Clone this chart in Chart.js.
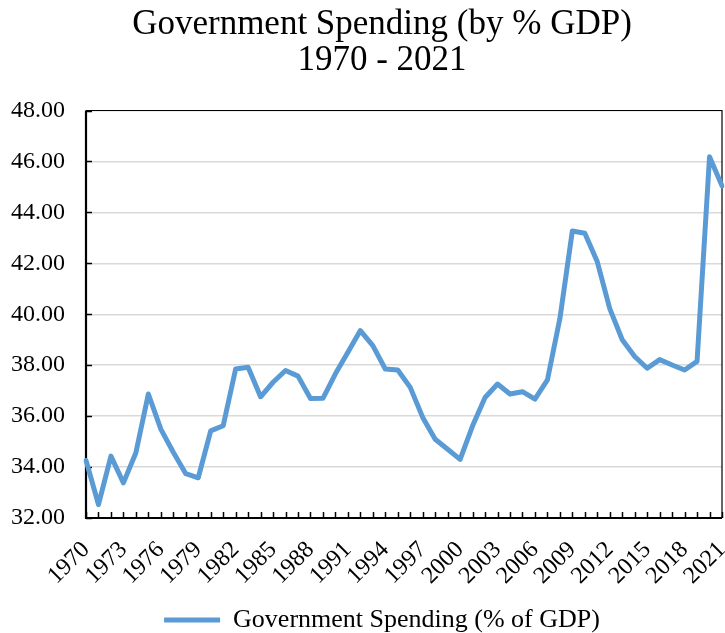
<!DOCTYPE html>
<html>
<head>
<meta charset="utf-8">
<title>Government Spending</title>
<script src="https://cdn.jsdelivr.net/npm/chart.js@4.4.0/dist/chart.umd.min.js"></script>
<style>
  html, body { margin: 0; padding: 0; background: #fff; }
  #wrap { width: 725px; height: 633px; }
</style>
</head>
<body>
<div id="wrap"><canvas id="spendingChart"></canvas></div>
<script>
// Años (eje x) y gasto público en % del PIB
const years = ['1970', '1971', '1972', '1973', '1974', '1975', '1976', '1977', '1978', '1979',
               '1980', '1981', '1982', '1983', '1984', '1985', '1986', '1987', '1988', '1989',
               '1990', '1991', '1992', '1993', '1994', '1995', '1996', '1997', '1998', '1999',
               '2000', '2001', '2002', '2003', '2004', '2005', '2006', '2007', '2008', '2009',
               '2010', '2011', '2012', '2013', '2014', '2015', '2016', '2017', '2018', '2019',
               '2020', '2021'];
const spending = [34.26, 32.53, 34.43, 33.38, 34.56, 36.87, 35.49, 34.58, 33.74, 33.58,
                  35.42, 35.62, 37.85, 37.92, 36.76, 37.33, 37.79, 37.57, 36.69, 36.70,
                  37.66, 38.51, 39.36, 38.77, 37.85, 37.81, 37.13, 35.95, 35.09, 34.70,
                  34.30, 35.62, 36.73, 37.26, 36.87, 36.96, 36.67, 37.42, 39.83, 43.27,
                  43.18, 42.06, 40.22, 39.00, 38.34, 37.88, 38.22, 38.01, 37.81, 38.15,
                  46.18, 45.04];
const yTicks = [32, 34, 36, 38, 40, 42, 44, 46, 48];

const serif = "'Liberation Serif', 'Times New Roman', serif";
const lineColor = '#5B9BD5';

// Marco del área del gráfico y marcas hacia dentro
const frameTicks = {
    id: 'frameTicks',
    beforeDatasetsDraw(chart) {
        const { ctx, chartArea: a, scales } = chart;
        ctx.save();
        ctx.strokeStyle = '#000';
        ctx.lineWidth = 1.2;
        ctx.beginPath();
        ctx.moveTo(a.left, a.top);
        ctx.lineTo(a.right, a.top);
        ctx.lineTo(a.right, a.bottom);
        ctx.stroke();

        ctx.lineWidth = 2.2;
        ctx.beginPath();
        ctx.moveTo(a.left, a.top);
        ctx.lineTo(a.left, a.bottom);
        ctx.lineTo(a.right, a.bottom);
        ctx.stroke();

        ctx.lineWidth = 1.5;
        ctx.beginPath();
        years.forEach((_, i) => {
            const px = Math.round(scales.x.getPixelForValue(i)) + 0.5;
            ctx.moveTo(px, a.bottom);
            ctx.lineTo(px, a.bottom - 6);
        });
        yTicks.forEach(v => {
            const py = Math.round(scales.y.getPixelForValue(v)) + 0.5;
            ctx.moveTo(a.left, py);
            ctx.lineTo(a.left + 6, py);
        });
        ctx.stroke();
        ctx.restore();
    }
};

const ctx = document.getElementById('spendingChart').getContext('2d');
const spendingChart = new Chart(ctx, {
    type: 'line',
    data: {
        labels: years,
        datasets: [{
            label: 'Government Spending (% of GDP)',
            data: spending,
            borderColor: lineColor,
            backgroundColor: lineColor,
            borderWidth: 5,
            borderCapStyle: 'round',
            borderJoinStyle: 'round',
            pointRadius: 0,
            tension: 0
        }]
    },
    options: {
        responsive: true,
        maintainAspectRatio: false,
        animation: false,
        layout: { padding: { left: 42, right: 3, top: 0, bottom: -10 } },
        plugins: {
            title: {
                display: true,
                text: ['Government Spending (by % GDP)', '1970 - 2021'],
                color: '#000',
                font: { family: serif, size: 35, weight: 'normal', lineHeight: 1.05 },
                padding: { top: 6, bottom: 31 }
            },
            legend: {
                position: 'bottom',
                labels: {
                    usePointStyle: true,
                    pointStyle: 'line',
                    pointStyleWidth: 56,
                    color: '#000',
                    font: { family: serif, size: 26, lineHeight: 1 },
                    padding: 3
                }
            },
            tooltip: { enabled: false }
        },
        scales: {
            x: {
                afterFit: scale => {
                    scale.paddingRight = 0;
                    scale.height = 86;
                },
                grid: { display: false, drawTicks: false },
                border: { display: false },
                ticks: {
                    autoSkip: false,
                    maxRotation: 45,
                    minRotation: 45,
                    padding: 18,
                    color: '#000',
                    font: { family: serif, size: 24 },
                    callback: (v, i) => (i % 3 === 0 || i === years.length - 1) ? years[i] : ''
                }
            },
            y: {
                min: 32,
                max: 48,
                afterFit: scale => {
                    scale.width = 44;
                    // las etiquetas sobresalen a la izquierda de la caja del eje: sin recorte
                    scale._computeLabelArea = () => undefined;
                },
                grid: { color: '#d9d9d9', lineWidth: 1.5, drawTicks: false },
                border: { display: false },
                ticks: {
                    stepSize: 2,
                    padding: 21,
                    color: '#000',
                    font: { family: serif, size: 24 },
                    callback: v => v.toFixed(2)
                }
            }
        }
    },
    plugins: [frameTicks]
});
</script>
</body>
</html>
